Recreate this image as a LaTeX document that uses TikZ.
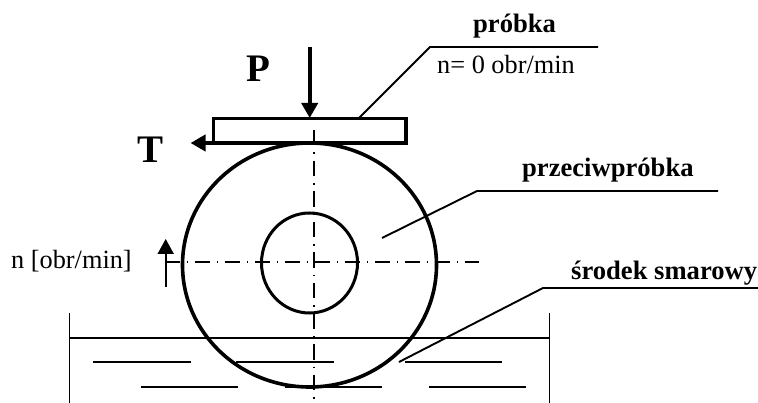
\documentclass[tikz,border=0pt]{standalone}
\usepackage{fontspec}
\setmainfont{Liberation Serif}
\usetikzlibrary{arrows.meta}
\tikzset{
  thick line/.style={line width=3.6pt},
  thin line/.style={line width=1.9pt},
  center line/.style={line width=1.9pt},
  force/.style={line width=3.8pt,-{Triangle[length=15pt,width=16pt]}},
  lbl/.style={inner sep=0pt,anchor=base west,font=\fontsize{26.3}{30}\selectfont},
  blbl/.style={inner sep=0pt,anchor=base west,font=\fontsize{26.6}{30}\selectfont\bfseries},
  big/.style={inner sep=0pt,anchor=base west,font=\fontsize{39}{44}\selectfont\bfseries}
}
\begin{document}
\begin{tikzpicture}[x=1pt,y=-1pt]
\useasboundingbox (0,0) rectangle (758,403);
% bath
\draw[thin line] (69.5,313) -- (69.5,403);
\draw[thin line] (549.5,313) -- (549.5,403);
\draw[thin line] (69.5,338) -- (549.5,338);
\foreach \a/\b in {93/190.5,236/334,405/502}
  \draw[thin line] (\a,362) -- (\b,362);
\foreach \a/\b in {141/238,285/382,429/526}
  \draw[thin line] (\a,387) -- (\b,387);
% centre lines
\draw[center line,dash pattern=on 15.5pt off 7pt on 1.5pt off 6.6pt] (314,130) -- (314,399);
\draw[center line,dash pattern=on 15pt off 7pt on 1.5pt off 6.5pt] (164.5,262) -- (479,262);
% discs
\draw[thick line] (309.5,265) ellipse [x radius=127,y radius=122];
\draw[line width=3pt] (309.5,263) ellipse [x radius=48,y radius=50];
% specimen
\draw[line width=3.2pt] (213.5,118.5) rectangle (406,143);
% forces
\coordinate (pstart) at (309.7,47);
\coordinate (ptip) at (309.7,118);
\coordinate (tstart) at (312,143);
\coordinate (ttip) at (190.5,143);
\draw[force] (pstart) -- (ptip);
\draw[force] (tstart) -- (ttip);
\coordinate (nstart) at (165.7,287);
\coordinate (ntip) at (165.7,239);
\draw[line width=1.9pt,-{Triangle[length=15pt,width=16pt]}] (nstart) -- (ntip);
% leaders
\coordinate (a1) at (359,118);
\coordinate (a2) at (430,47);
\coordinate (a3) at (598,47);
\draw[thin line] (a1) -- (a2) -- (a3);
\coordinate (b1) at (382,238);
\coordinate (b2) at (477,191);
\coordinate (b3) at (718,191);
\draw[thin line] (b1) -- (b2) -- (b3);
\coordinate (c1) at (399,362);
\coordinate (c2) at (543,288);
\coordinate (c3) at (758,288);
\draw[thin line] (c1) -- (c2) -- (c3);
% labels
\node[big] (P) at (246,82) {P};
\node[big] (T) at (137,163) {T};
\node[blbl] (probka) at (473,33) {próbka};
\node[lbl] (nzero) at (437,74) {n= 0 obr/min};
\node[blbl] (przeciw) at (522,177) {przeciwpróbka};
\node[blbl] (srodek) at (571,280) {środek smarowy};
\node[lbl] (nobr) at (11,269) {n [obr/min]};
\end{tikzpicture}
\end{document}
